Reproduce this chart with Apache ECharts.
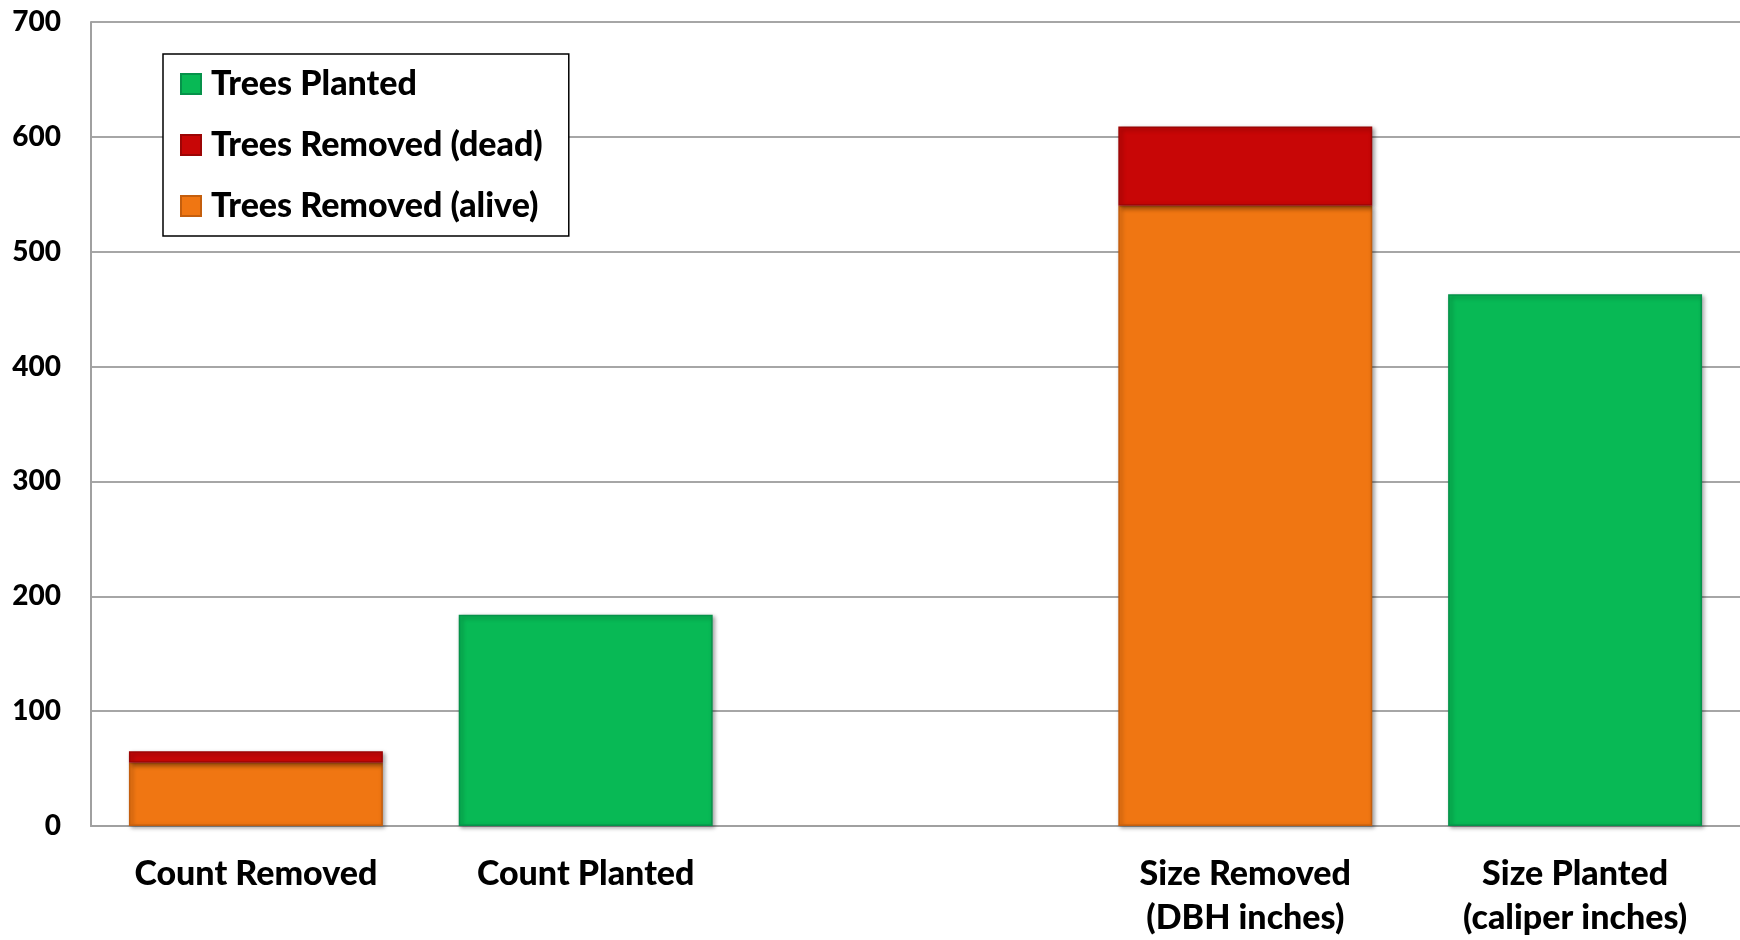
<!DOCTYPE html>
<html>
<head>
<meta charset="utf-8">
<script src="https://cdn.jsdelivr.net/npm/echarts@6/dist/echarts.min.js"></script>
<style>
html,body{margin:0;padding:0;background:#fff;}
#chart{width:1740px;height:940px;}
</style>
</head>
<body>
<div id="chart"></div>
<script>
const categories = ["Count Removed", "Count Planted", "", "Size Removed\n(DBH inches)", "Size Planted\n(caliper inches)"];
const treesPlanted = [null, 184, null, null, 463];
const treesRemovedDead = [10, null, null, 69, null];
const treesRemovedAlive = [55, null, null, 540, null];
const yTicks = [0, 100, 200, 300, 400, 500, 600, 700];

const FONT = 'Lato, "Open Sans", sans-serif';
const WEIGHT = 900;
const chart = echarts.init(document.getElementById('chart'));

function barStyle(fill, border) {
  return {
    color: fill,
    borderColor: border,
    borderWidth: 1.5,
    shadowColor: 'rgba(0,0,0,0.35)',
    shadowBlur: 4,
    shadowOffsetX: 2,
    shadowOffsetY: 2
  };
}

chart.setOption({
  animation: false,
  backgroundColor: '#ffffff',
  grid: { left: 91, right: 0, top: 22, bottom: 97, containLabel: false },
  legend: {
    orient: 'vertical',
    left: 163,
    top: 54,
    padding: [13, 26, 13, 17],
    itemGap: 27,
    itemWidth: 20,
    itemHeight: 20,
    icon: 'rect',
    backgroundColor: '#ffffff',
    borderColor: '#000000',
    borderWidth: 1.5,
    data: ['Trees Planted', 'Trees Removed (dead)', 'Trees Removed (alive)'],
    textStyle: { fontFamily: FONT, fontWeight: WEIGHT, fontSize: 34, color: '#000', padding: [0, 0, 0, 5] }
  },
  xAxis: {
    type: 'category',
    data: categories,
    axisLine: { show: true, lineStyle: { color: '#a0a0a0', width: 2 } },
    axisTick: { show: false },
    axisLabel: {
      interval: 0,
      margin: 26,
      fontFamily: FONT,
      fontWeight: WEIGHT,
      fontSize: 34,
      lineHeight: 44,
      color: '#000',
      verticalAlign: 'top'
    }
  },
  yAxis: {
    type: 'value',
    min: 0,
    max: 700,
    interval: 100,
    axisLine: { show: true, lineStyle: { color: '#a0a0a0', width: 2 } },
    axisTick: { show: false },
    splitLine: { show: true, lineStyle: { color: '#a6a6a6', width: 2 } },
    axisLabel: {
      margin: 30,
      fontFamily: FONT,
      fontWeight: WEIGHT,
      fontSize: 28,
      color: '#000',
      formatter: function (v) { return yTicks.indexOf(v) >= 0 ? String(v) : ''; }
    }
  },
  series: [
    {
      name: 'Trees Planted', type: 'bar', stack: 'total', barWidth: '77%',
      data: treesPlanted, itemStyle: barStyle('#08b955', '#06924a')
    },
    {
      name: 'Trees Removed (alive)', type: 'bar', stack: 'total', barWidth: '77%',
      data: treesRemovedAlive, itemStyle: barStyle('#f07612', '#c45e0d')
    },
    {
      name: 'Trees Removed (dead)', type: 'bar', stack: 'total', barWidth: '77%',
      data: treesRemovedDead, itemStyle: barStyle('#c80606', '#9c0505')
    }
  ]
});
</script>
</body>
</html>
